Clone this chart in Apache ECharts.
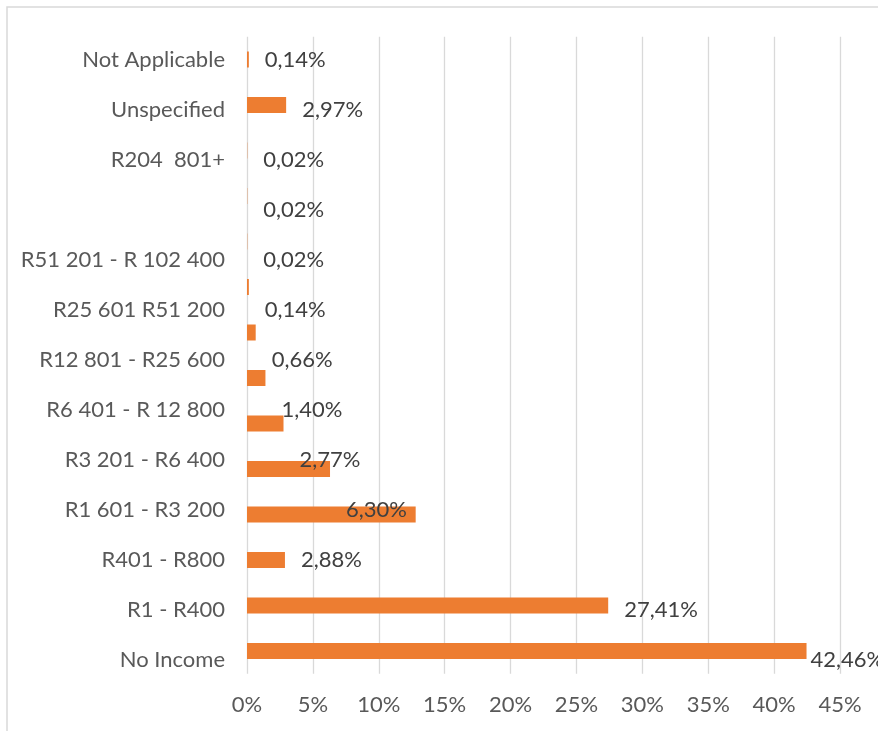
<!DOCTYPE html>
<html>
<head>
<meta charset="utf-8">
<script src="https://cdn.jsdelivr.net/npm/echarts@6/dist/echarts.min.js"></script>
<style>
  html, body { margin: 0; padding: 0; background: #fff; }
  #chart { width: 878px; height: 731px; }
</style>
</head>
<body>
<div id="chart"></div>
<script>
// row labels, top to bottom
const categories = [
  'Not Applicable', 'Unspecified', 'R204  801+', '', 'R51 201 - R 102 400',
  'R25 601 R51 200', 'R12 801 - R25 600', 'R6 401 - R 12 800', 'R3 201 - R6 400',
  'R1 601 - R3 200', 'R401 - R800', 'R1 - R400', 'No Income'
];
// percentages printed next to each row
const labelValues = [0.14, 2.97, 0.02, 0.02, 0.02, 0.14, 0.66, 1.40, 2.77, 6.30, 2.88, 27.41, 42.46];
// drawn bars (the bars sit on their own, slightly tighter row grid)
const barValues = [0.14, 2.97, 0.02, 0.02, 0.02, 0.14, 0.66, 1.40, 2.77, 6.30, 12.8, 2.88, 27.41, 42.46];
const barSlots = barValues.map((v, i) => 'b' + i);
const xMin = 0, xMax = 45, xStep = 5;

const font = 'Lato, "Liberation Sans", sans-serif';
const chart = echarts.init(document.getElementById('chart'));

let option = {
  animation: false,
  textStyle: { fontFamily: font },
  graphic: [{
    type: 'rect',
    shape: { x: 7, y: 7, width: 900, height: 800 },
    style: { fill: 'none', stroke: '#D9D9D9', lineWidth: 1.5 },
    silent: true
  }],
  grid: [
    { left: 247, right: 38, top: 35, height: 650 },
    { left: 247, right: 38, top: 36.75, height: 637 }
  ],
  xAxis: [
    { gridIndex: 0, type: 'value', min: xMin, max: xMax, interval: xStep, show: false },
    {
      gridIndex: 1, type: 'value', min: xMin, max: xMax, interval: xStep,
      axisLine: { show: false },
      axisTick: { show: false },
      splitLine: { lineStyle: { color: '#D9D9D9', width: 1.3 } },
      axisLabel: { formatter: '{value}%', color: '#595959', fontSize: 22, margin: 20, fontFamily: font }
    }
  ],
  yAxis: [
    {
      gridIndex: 0, type: 'category', data: categories, inverse: true,
      axisLine: { show: false },
      axisTick: { show: false },
      axisLabel: { color: '#595959', fontSize: 22, margin: 22, fontFamily: font }
    },
    { gridIndex: 1, type: 'category', data: barSlots, inverse: true, show: false }
  ],
  series: [
    {
      name: 'bars',
      type: 'bar',
      xAxisIndex: 1,
      yAxisIndex: 1,
      barWidth: 16,
      itemStyle: { color: '#ED7D31' },
      data: barValues,
      silent: true
    },
    {
      name: 'labels',
      type: 'bar',
      xAxisIndex: 0,
      yAxisIndex: 0,
      barWidth: 1,
      itemStyle: { color: 'rgba(0,0,0,0)' },
      label: {
        show: true,
        position: 'right',
        distance: 16,
        color: '#404040',
        fontSize: 22,
        fontFamily: font,
        formatter: p => p.value.toFixed(2).replace('.', ',') + '%'
      },
      data: labelValues.map((v, i) => i === labelValues.length - 1 ? { value: v, label: { distance: 4 } } : v),
      silent: true
    }
  ]
};

chart.setOption(option);
</script>
</body>
</html>
